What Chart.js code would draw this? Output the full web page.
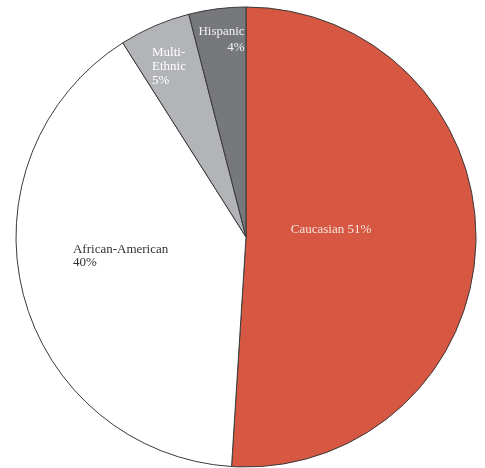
<!DOCTYPE html>
<html>
<head>
<meta charset="utf-8">
<script src="https://cdn.jsdelivr.net/npm/chart.js@4/dist/chart.umd.min.js"></script>
<style>
  html, body { margin: 0; padding: 0; background: #fff; }
  #wrap { width: 485px; height: 468px; }
</style>
</head>
<body>
<div id="wrap"><canvas id="pie"></canvas></div>
<script>
const categories = ['Caucasian', 'African-American', 'Multi-Ethnic', 'Hispanic'];
const shares = [51, 40, 5, 4];
const sliceColors = ['#d65742', '#ffffff', '#b2b4b8', '#76787c'];

// label lines per slice and their colour
const labelLines = [
  ['Caucasian 51%'],
  ['African-American', '40%'],
  ['Multi-', 'Ethnic', '5%'],
  ['Hispanic', '4%']
];
const labelColors = ['#f4e4e0', '#333333', '#ffffff', '#f2f2f2'];

// where each label block goes, relative to the arc (r fraction, angle in deg from 12 o'clock)
const labelSpots = [
  { r: 0.371, a: 85.3, align: 'center', lh: 14 },
  { r: 0.757, a: 263.6, align: 'left', lh: 13 },
  { r: 0.848, a: 331.2, align: 'left', lh: 14 },
  { r: 0.857, a: 359.6, align: 'right', lh: 16 }
];

const pieLabels = {
  id: 'pieLabels',
  afterDatasetsDraw(chart) {
    const ctx = chart.ctx;
    const meta = chart.getDatasetMeta(0);
    ctx.save();
    ctx.font = '13px "Liberation Serif", "Times New Roman", serif';
    ctx.textBaseline = 'middle';
    meta.data.forEach((arc, i) => {
      const spot = labelSpots[i];
      const ang = (spot.a - 90) * Math.PI / 180;
      const x = arc.x + Math.cos(ang) * arc.outerRadius * spot.r;
      const y = arc.y + Math.sin(ang) * arc.outerRadius * spot.r;
      const lines = labelLines[i];
      ctx.fillStyle = labelColors[i];
      ctx.textAlign = spot.align;
      const top = y - (lines.length - 1) * spot.lh / 2;
      lines.forEach((t, k) => ctx.fillText(t, x, top + k * spot.lh));
    });
    ctx.restore();
  }
};

new Chart(document.getElementById('pie'), {
  type: 'pie',
  data: {
    labels: categories,
    datasets: [{
      data: shares,
      backgroundColor: sliceColors,
      borderColor: '#3a3a3a',
      borderWidth: 1,
      hoverOffset: 0
    }]
  },
  options: {
    responsive: true,
    maintainAspectRatio: false,
    animation: false,
    radius: 230,
    layout: { padding: { left: 7, right: 0, top: 6, bottom: 0 } },
    plugins: {
      legend: { display: false },
      tooltip: { enabled: false }
    }
  },
  plugins: [pieLabels]
});
</script>
</body>
</html>
